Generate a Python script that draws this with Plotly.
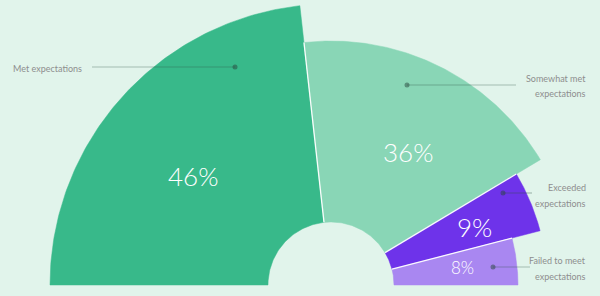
import numpy as np
import plotly.graph_objects as go

# ---- data ----
categories = ["Met expectations", "Somewhat met expectations",
              "Exceeded expectations", "Failed to meet expectations"]
callout_lines = [["Met expectations"],
                 ["Somewhat met", "expectations"],
                 ["Exceeded", "expectations"],
                 ["Failed to meet", "expectations"]]
percent = [46, 36, 9, 8]

# ---- style / layout constants (pixel space) ----
colors = ["#38b98a", "#89d6b6", "#6e33ea", "#a987f1"]
bg = "#e1f4eb"
outer_r = [281, 244, 216, 187]
inner_r = 63
cx, cy = 331, 285
pct_font = [26, 26, 26, 17]
pct_pos = [(193, 176), (408, 152), (474, 227), (462, 267)]
# leader line: (x_text_side, x_dot, y)
leaders = [(92, 235, 67), (516, 407, 85), (532, 503, 193), (530, 493, 267)]
text_side = ["left", "right", "right", "right"]
text_x = [11, 588, 588, 588]
text_y = [[68], [78, 93], [187, 203], [260, 276]]
FONT = "Lato, 'Open Sans', sans-serif"

fig = go.Figure()

total = sum(percent)
start = 180.0
bounds = []
for i, p in enumerate(percent):
    end = start - p / total * 180.0
    t_out = np.radians(np.linspace(start, end, 120))
    t_in = np.radians(np.linspace(end, start, 60))
    xs = np.concatenate([cx + outer_r[i] * np.cos(t_out), cx + inner_r * np.cos(t_in)])
    ys = np.concatenate([cy - outer_r[i] * np.sin(t_out), cy - inner_r * np.sin(t_in)])
    xs = np.append(xs, xs[0])
    ys = np.append(ys, ys[0])
    fig.add_trace(go.Scatter(x=xs, y=ys, mode="lines", fill="toself",
                             fillcolor=colors[i],
                             line=dict(color=colors[i], width=0.5),
                             hoverinfo="text", text=categories[i],
                             showlegend=False))
    if i < len(percent) - 1:
        bounds.append((end, min(outer_r[i], outer_r[i + 1])))
    start = end

# white separators between neighbouring slices
for ang, rr in bounds:
    a = np.radians(ang)
    fig.add_trace(go.Scatter(x=[cx + inner_r * np.cos(a), cx + rr * np.cos(a)],
                             y=[cy - inner_r * np.sin(a), cy - rr * np.sin(a)],
                             mode="lines", line=dict(color="rgba(255,255,255,0.95)", width=1.3),
                             hoverinfo="skip", showlegend=False))

# leader lines and dots
for i, (xa, xd, y) in enumerate(leaders):
    fig.add_trace(go.Scatter(x=[xa, xd], y=[y, y], mode="lines",
                             line=dict(color="rgba(50,80,70,0.35)", width=1.2),
                             hoverinfo="skip", showlegend=False))
    fig.add_trace(go.Scatter(x=[xd], y=[y], mode="markers",
                             marker=dict(color="rgba(40,70,60,0.5)", size=5),
                             hoverinfo="skip", showlegend=False))

annotations = []
for i, p in enumerate(percent):
    annotations.append(dict(x=pct_pos[i][0], y=pct_pos[i][1], xref="x", yref="y",
                            text=f"{p}%", showarrow=False,
                            font=dict(family=FONT, size=pct_font[i], color="white", weight=300),
                            xanchor="center", yanchor="middle"))
for i, lines in enumerate(callout_lines):
    for ln, yy in zip(lines, text_y[i]):
        annotations.append(dict(x=text_x[i], y=yy, xref="x", yref="y", text=ln,
                                showarrow=False, xanchor=text_side[i], yanchor="middle",
                                font=dict(family=FONT, size=9, color="#8e8e8e")))

fig.update_layout(
    width=600, height=296,
    margin=dict(l=0, r=0, t=0, b=0),
    paper_bgcolor=bg, plot_bgcolor=bg,
    xaxis=dict(range=[0, 600], visible=False, fixedrange=True),
    yaxis=dict(range=[296, 0], visible=False, fixedrange=True),
    annotations=annotations,
    showlegend=False,
)

fig.write_html("out.html")
